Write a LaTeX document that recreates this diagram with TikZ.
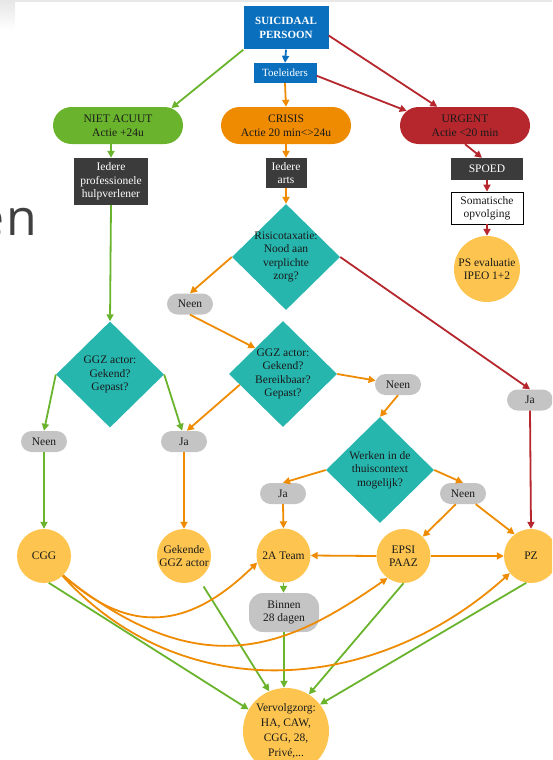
\documentclass[tikz,border=0pt]{standalone}
\usepackage{fontspec}
\setmainfont{Liberation Serif}
\newfontfamily\ensans{Open Sans}
\usetikzlibrary{shapes.geometric,shapes.misc,arrows.meta,calc}
\definecolor{cblue}{HTML}{0A70BE}
\definecolor{cgreen}{HTML}{6AB42D}
\definecolor{corange}{HTML}{EE8B00}
\definecolor{cred}{HTML}{B5272D}
\definecolor{cteal}{HTML}{26B6AE}
\definecolor{cdark}{HTML}{3B3B3B}
\definecolor{cgray}{HTML}{C4C4C4}
\definecolor{cyellow}{HTML}{FDC54F}
\definecolor{cen}{HTML}{404040}
\definecolor{ctext}{HTML}{1A1A1A}
\tikzset{
 base/.style={align=center, inner sep=1pt, text=ctext, font=\fontsize{11.5}{13.5}\selectfont},
 lab/.style={align=center, inner sep=0pt, text=ctext, font=\fontsize{11.5}{13.5}\selectfont},
 bluebox/.style={base, rectangle, fill=cblue, text=white, font=\bfseries\fontsize{11}{13.5}\selectfont},
 pillbig/.style={base, rounded rectangle, minimum width=132pt, minimum height=37pt},
 darkbox/.style={base, rectangle, fill=cdark, text=white},
 whitebox/.style={base, rectangle, fill=white, draw=black, line width=0.8pt},
 dia/.style={diamond, fill=cteal, minimum width=108pt, minimum height=106pt, inner sep=0pt},
 gpill/.style={base, rounded rectangle, fill=cgray, minimum width=48pt, minimum height=21pt},
 yc/.style={circle, fill=cyellow, minimum size=54pt, inner sep=0pt},
 arr/.style={line width=1.8pt, -{Triangle[length=7pt,width=7pt]}},
}
\begin{document}
\begin{tikzpicture}[x=1pt,y=-1pt]
\useasboundingbox (0,0) rectangle (552,760);
\begin{scope}
\clip (0,0) rectangle (552,760);
\fill[gray!18] (0,0) rectangle (552,2);
\shade[top color=gray!18, bottom color=white] (0,2) rectangle (15,30);
\node[anchor=base east, inner sep=0pt, text=cen, font=\ensans\fontsize{50}{50}\selectfont] (en) at (37,235) {e\kern2pt n};

% nodes
\node[bluebox, minimum width=85pt, minimum height=43pt] (sp) at (286,28) {SUICIDAAL\\PERSOON};
\node[bluebox, font=\fontsize{11}{13.5}\selectfont, minimum width=63pt, minimum height=20pt] (toe) at (285,73) {Toeleiders};
\node[pillbig, fill=cgreen] (na) at (118,125.5) {NIET ACUUT\\Actie +24u};
\node[pillbig, fill=corange] (cr) at (286,125.5) {CRISIS\\Actie 20 min<>24u};
\node[pillbig, fill=cred] (ur) at (465,125.5) {URGENT\\Actie <20 min};
\node[darkbox, minimum width=74pt, minimum height=47pt] (ip) at (111,181.5) {Iedere\\professionele\\hulpverlener};
\node[darkbox, minimum width=41pt, minimum height=30pt] (ia) at (286,173) {Iedere\\arts};
\node[darkbox, minimum width=72pt, minimum height=22pt] (spoed) at (487,169) {SPOED};
\node[whitebox, minimum width=72pt, minimum height=32pt] (som) at (487,208) {Somatische\\opvolging};
\node[yc, minimum size=66pt, label={[lab]center:{PS evaluatie\\IPEO 1+2}}] (ps) at (487,269) {};

\node[dia, label={[lab]center:{Risicotaxatie:\\Nood aan\\verplichte\\zorg?}}] (risk) at (286,257) {};
\node[gpill] (neen1) at (190,304) {Neen};
\node[dia, label={[lab]center:{GGZ actor:\\Gekend?\\Gepast?}}] (ggzl) at (110,374.5) {};
\node[dia, label={[lab]center:{GGZ actor:\\Gekend?\\Bereikbaar?\\Gepast?}}] (ggzm) at (283,374) {};
\node[gpill] (neen2) at (398,384.5) {Neen};
\node[gpill] (ja1) at (530,400) {Ja};
\node[gpill] (neen3) at (44,441.5) {Neen};
\node[gpill] (ja2) at (184,441.5) {Ja};
\node[dia, label={[lab]center:{Werken in de\\thuiscontext\\mogelijk?}}] (werk) at (380,470) {};
\node[gpill] (ja3) at (283,493.5) {Ja};
\node[gpill] (neen4) at (463,493.5) {Neen};

\node[yc, label={[lab]center:{CGG}}] (cgg) at (44,556) {};
\node[yc, label={[lab]center:{Gekende\\GGZ actor}}] (gek) at (184,556) {};
\node[yc, label={[lab]center:{2A Team}}] (twa) at (283.5,555.5) {};
\node[yc, label={[lab]center:{EPSI\\PAAZ}}] (epsi) at (403.5,556) {};
\node[yc, label={[lab]center:{PZ}}] (pz) at (531,556) {};
\node[base, rectangle, rounded corners=14pt, fill=cgray, minimum width=70pt, minimum height=39pt] (bin) at (284,612.5) {Binnen\\28 dagen};
\node[yc, minimum size=86pt, label={[lab, font=\fontsize{11.5}{15}\selectfont]center:{Vervolgzorg:\\HA, CAW,\\CGG, 28,\\Privé,...}}] (verv) at (286,731) {};

% connectors top
\draw[arr, cgreen] (sp.south west) -- (na.18);
\draw[arr, cblue] (sp.south) -- (toe.north);
\draw[arr, cred] (sp.-10) -- (ur.146);
\draw[arr, corange] (toe.south) -- (cr.north);
\draw[arr, cred] (toe.-5) -- (ur.166);
\draw[arr, cgreen] (ip.north |- na.south) -- (ip.north);
\draw[arr, corange] (cr.south) -- (ia.north);
\draw[arr, cred] (ur.south) -- ($(spoed.north)+(-5,0)$);
\draw[arr, cred] (spoed.south) -- (som.north);
\draw[arr, cred] (som.south) -- (ps.north);

% middle
\draw[arr, cgreen] (ip.south) -- (ggzl.north);
\draw[arr, corange] (ia.south) -- (risk.north);
\draw[arr, corange] (risk.west) -- (neen1.north);
\draw[arr, cred] (risk.east) -- (ja1.north);
\draw[arr, corange] (neen1.south) -- (ggzm.137);
\draw[arr, corange] (ggzm.east) -- (neen2.170);
\draw[arr, corange] (ggzm.194) -- (ja2.75);
\draw[arr, cgreen] (ggzl.west) -- (neen3.north);
\draw[arr, cgreen] (ggzl.east) -- (ja2.100);
\draw[arr, corange] (neen2.south) -- (werk.north);
\draw[arr, corange] (werk.west) -- (ja3.north);
\draw[arr, corange] (werk.east) -- (neen4.north);
\draw[arr, cred] (ja1.south) -- (pz.north);
\draw[arr, cgreen] (neen3.south) -- (cgg.north);
\draw[arr, corange] (ja2.south) -- (gek.north);
\draw[arr, corange] (ja3.south) -- (twa.north);
\draw[arr, corange] (neen4.236) -- (epsi.45);
\draw[arr, corange] (neen4.-40) -- (pz.127);
\draw[arr, corange] (epsi.west) -- (twa.east);
\draw[arr, corange] (epsi.east) -- (pz.west);

% bottom
\draw[arr, cgreen] (twa.south) -- (twa.south |- bin.north);
\draw[arr, cgreen] (bin.south) -- (bin.south |- verv.north);
\draw[arr, cgreen] (cgg.-80) -- (verv.150);
\draw[arr, cgreen, shorten <=9pt] (gek.-57) -- (verv.113);
\draw[arr, cgreen] (epsi.south) -- (verv.58);
\draw[arr, cgreen] (pz.-100) -- (verv.38);

\draw[arr, corange] (cgg.-45) .. controls (131,637) and (190,628) .. (twa.195);
\draw[arr, corange] (cgg.-46) .. controls (202,687) and (287,648) .. (epsi.234);
\draw[arr, corange] (cgg.-47) .. controls (184,709) and (376,694) .. (pz.219);
\end{scope}
\end{tikzpicture}
\end{document}
